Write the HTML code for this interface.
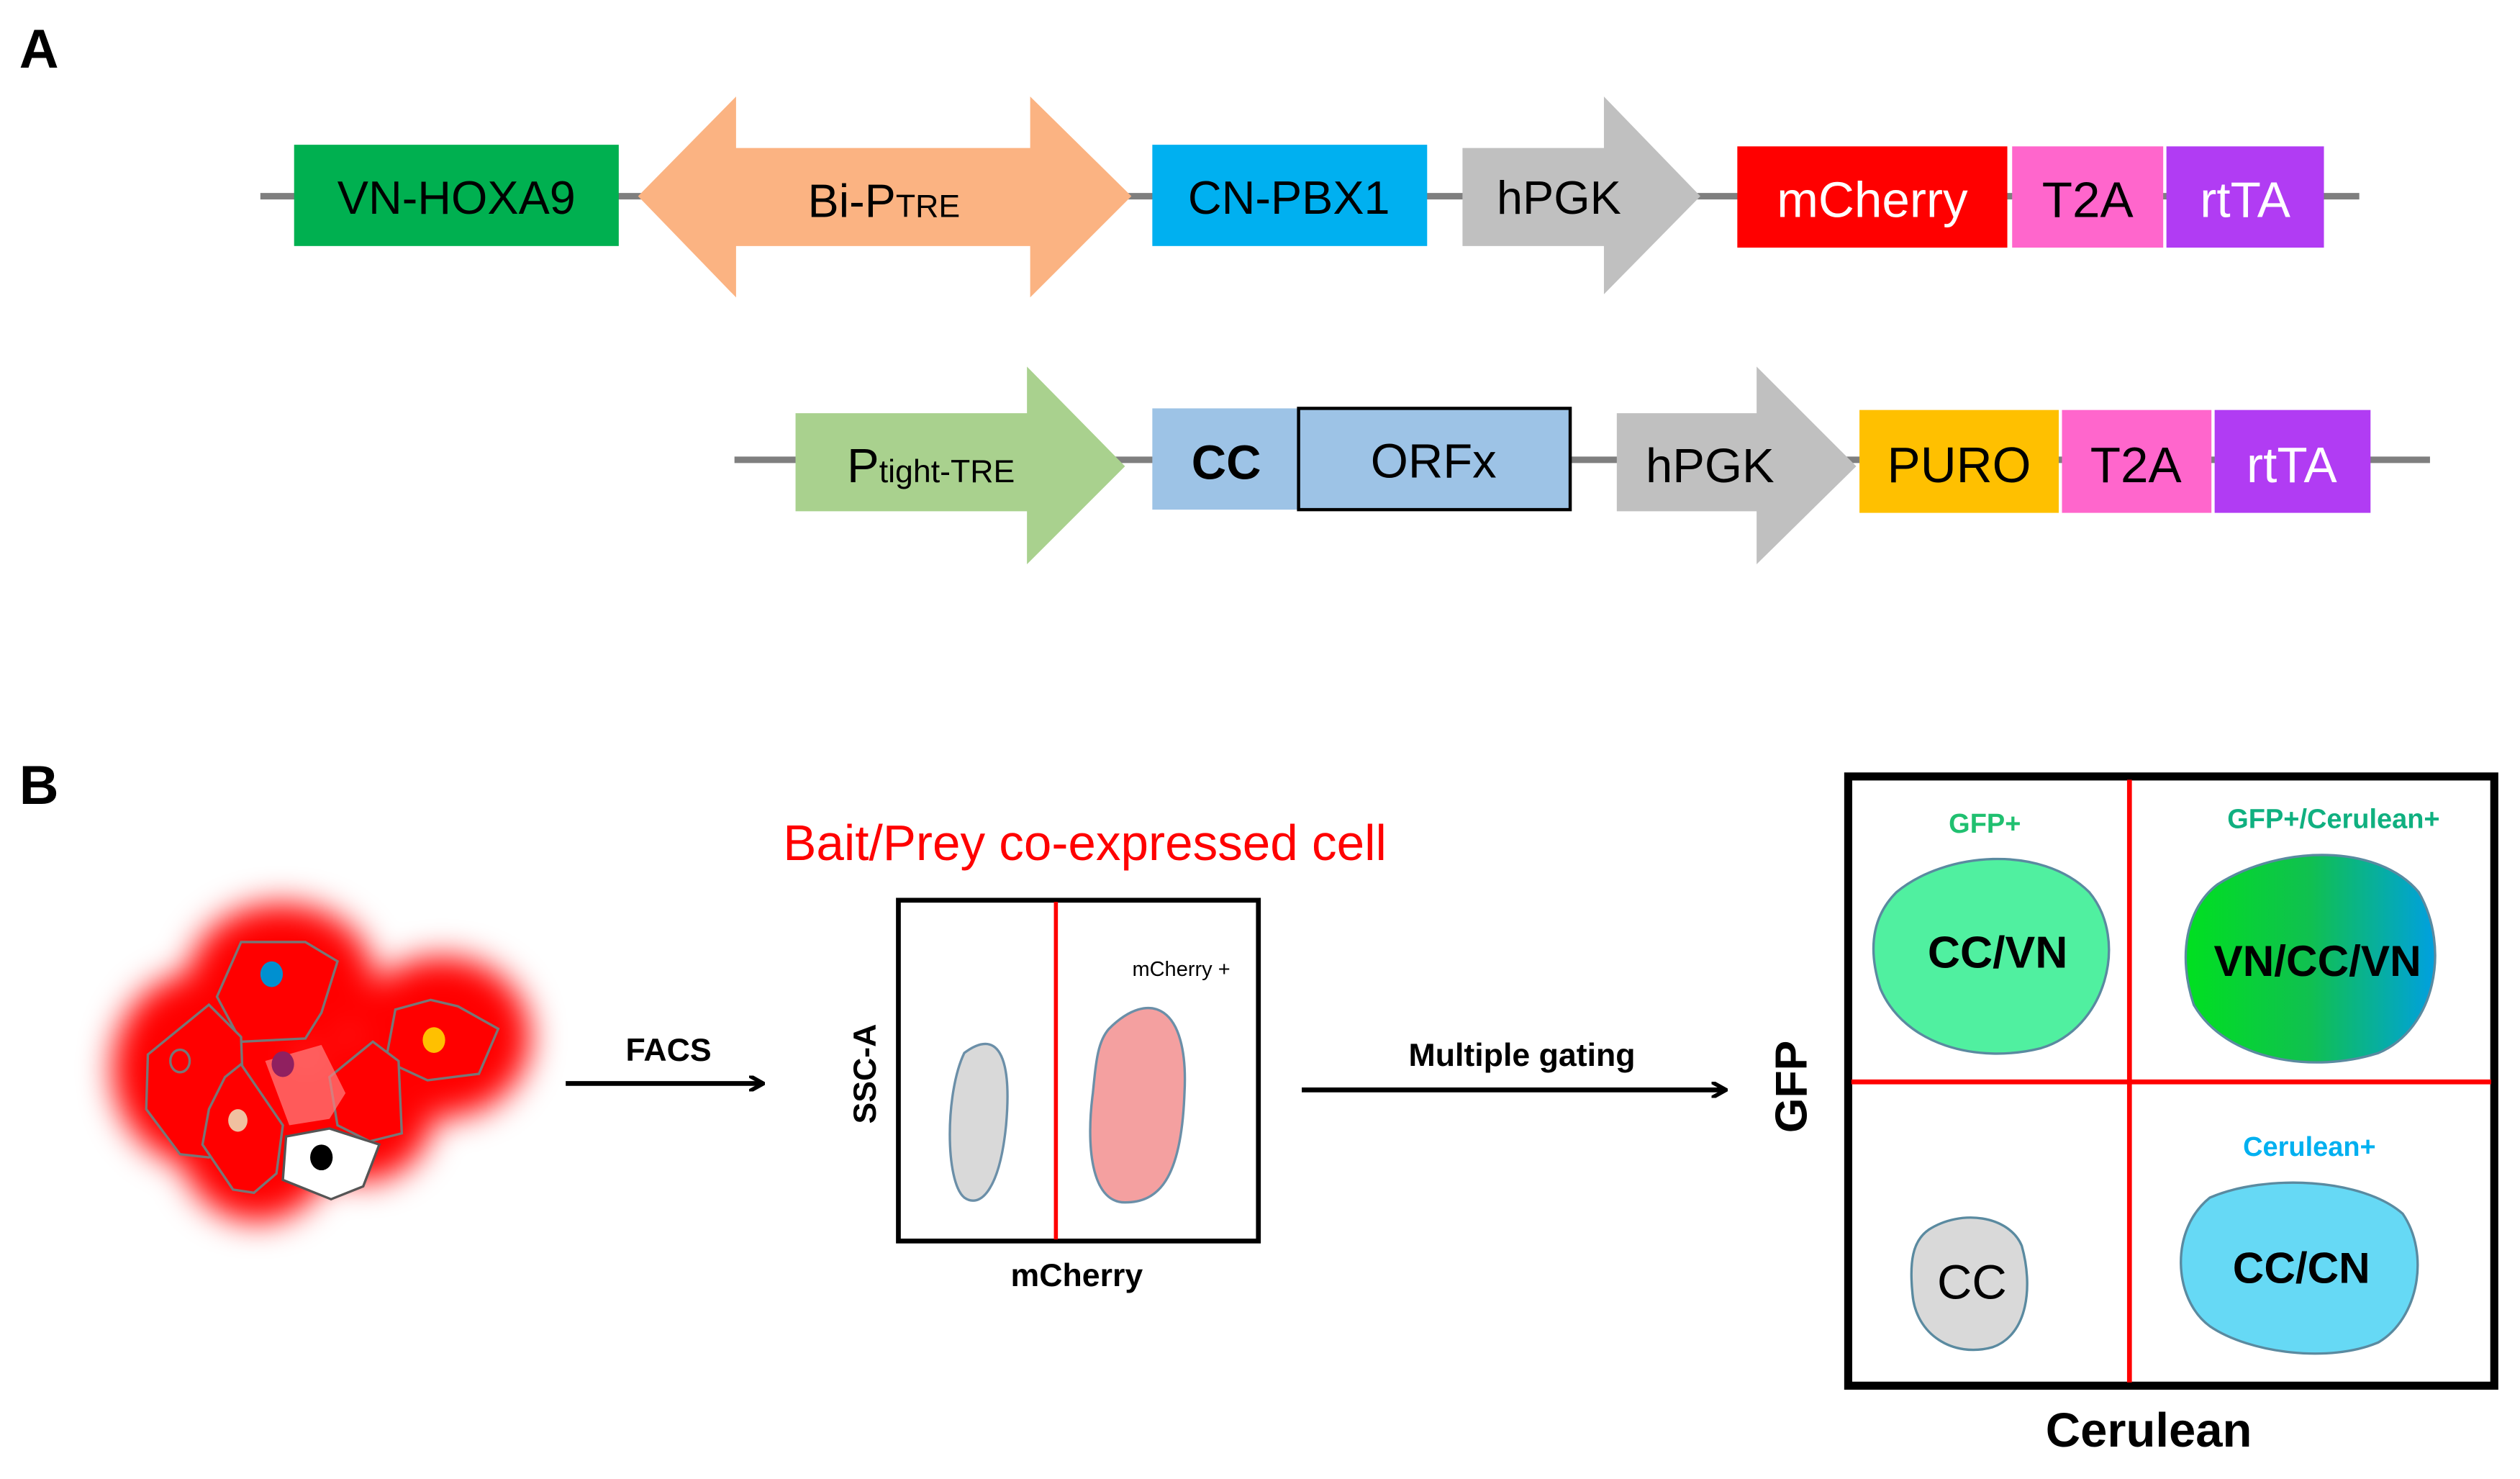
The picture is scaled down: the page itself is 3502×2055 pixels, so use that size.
<!DOCTYPE html>
<html><head><meta charset="utf-8"><style>html,body{margin:0;padding:0;background:#fff}svg{display:block}</style></head><body>
<svg width="3502" height="2055" viewBox="0 0 1568 920" xmlns="http://www.w3.org/2000/svg" font-family="Liberation Sans, sans-serif">
<defs>
<filter id="blur" x="-30%" y="-30%" width="160%" height="160%"><feGaussianBlur stdDeviation="10"/></filter>
<linearGradient id="gb" x1="0" x2="1"><stop offset="0" stop-color="#00e020"/><stop offset="0.5" stop-color="#10c050"/><stop offset="1" stop-color="#00a0e0"/></linearGradient>
<marker id="ah" markerWidth="10" markerHeight="10" refX="8" refY="5" orient="auto" markerUnits="userSpaceOnUse"><path d="M0,0 L9,5 L0,10" fill="none" stroke="#000" stroke-width="2.5"/></marker>
</defs>
<text x="12" y="42" font-size="34" font-weight="bold">A</text>
<text x="12" y="500" font-size="34" font-weight="bold">B</text>
<!-- Row 1 -->
<line x1="162" y1="122" x2="1468" y2="122" stroke="#7f7f7f" stroke-width="4"/>
<rect x="183" y="90" width="202" height="63" fill="#00b050"/>
<text x="284" y="133" font-size="29" text-anchor="middle">VN-HOXA9</text>
<polygon points="397,122 458,60 458,92 641,92 641,60 704,122 641,185 641,153 458,153 458,185" fill="#fbb382"/>
<text x="550" y="135" font-size="29" text-anchor="middle">Bi-P<tspan font-size="20">TRE</tspan></text>
<rect x="717" y="90" width="171" height="63" fill="#00b0f0"/>
<text x="802" y="133" font-size="29" text-anchor="middle">CN-PBX1</text>
<polygon points="910,92 998,92 998,60 1058,122 998,183 998,153 910,153" fill="#c0c0c0"/>
<text x="970" y="133" font-size="29" text-anchor="middle">hPGK</text>
<rect x="1081" y="91" width="168" height="63" fill="#ff0000"/>
<text x="1165" y="135" font-size="31" text-anchor="middle" fill="#fff">mCherry</text>
<rect x="1252" y="91" width="94" height="63" fill="#ff66cc"/>
<text x="1299" y="135" font-size="31" text-anchor="middle">T2A</text>
<rect x="1348" y="91" width="98" height="63" fill="#b13cf3"/>
<text x="1397" y="135" font-size="31" text-anchor="middle" fill="#fff">rtTA</text>
<!-- Row 2 -->
<line x1="457" y1="286" x2="1512" y2="286" stroke="#7f7f7f" stroke-width="4"/>
<polygon points="495,257 639,257 639,228 700,290 639,351 639,318 495,318" fill="#a9d18e"/>
<text x="527" y="300" font-size="30">P<tspan font-size="20">tight-TRE</tspan></text>
<rect x="717" y="254" width="91" height="63" fill="#9dc3e6"/>
<text x="763" y="298" font-size="30" text-anchor="middle" font-weight="bold">CC</text>
<rect x="808" y="254" width="169" height="63" fill="#9dc3e6" stroke="#000" stroke-width="2"/>
<text x="892" y="297" font-size="30" text-anchor="middle">ORFx</text>
<polygon points="1006,257 1093,257 1093,228 1155,290 1093,351 1093,318 1006,318" fill="#c0c0c0"/>
<text x="1064" y="300" font-size="30" text-anchor="middle">hPGK</text>
<rect x="1157" y="255" width="124" height="64" fill="#ffc000"/>
<text x="1219" y="300" font-size="31" text-anchor="middle">PURO</text>
<rect x="1283" y="255" width="93" height="64" fill="#ff66cc"/>
<text x="1329" y="300" font-size="31" text-anchor="middle">T2A</text>
<rect x="1378" y="255" width="97" height="64" fill="#b13cf3"/>
<text x="1426" y="300" font-size="31" text-anchor="middle" fill="#fff">rtTA</text>
<!-- Cells -->
<g filter="url(#blur)" fill="#ff0000">
<ellipse cx="175" cy="610" rx="58" ry="48"/>
<ellipse cx="125" cy="665" rx="55" ry="60"/>
<ellipse cx="275" cy="645" rx="55" ry="50"/>
<ellipse cx="160" cy="705" rx="50" ry="55"/>
<ellipse cx="225" cy="690" rx="45" ry="45"/>
</g>
<g fill="#ff0000" stroke="#777" stroke-width="1.5">
<polygon points="150,586 190,586 210,598 200,630 190,646 150,648 135,620"/>
<polygon points="92,656 130,625 150,645 152,700 130,720 112,718 91,690"/>
<polygon points="246,628 268,622 285,626 310,640 298,668 266,672 240,660"/>
<polygon points="205,670 232,648 248,660 250,705 230,710 210,700"/>
<polygon points="140,670 150,662 176,700 172,730 158,742 145,740 126,712 130,690"/>
</g>
<path d="M178,707 L205,702 L236,712 L226,738 L206,746 L176,734 Z" fill="#fff" stroke="#555" stroke-width="1.5"/>
<path d="M165,660 L200,650 L215,680 L205,696 L180,700 Z" fill="#ff8080" opacity="0.7"/>
<ellipse cx="169" cy="606" rx="7" ry="8" fill="#0090d0"/>
<ellipse cx="270" cy="647" rx="7" ry="8" fill="#ffc000"/>
<ellipse cx="176" cy="662" rx="7" ry="8" fill="#902060"/>
<ellipse cx="148" cy="697" rx="6" ry="7" fill="#f0c0a0"/>
<ellipse cx="200" cy="720" rx="7" ry="8" fill="#000"/>
<ellipse cx="112" cy="660" rx="6" ry="7" fill="none" stroke="#777" stroke-width="1.5"/>
<!-- FACS arrow -->
<line x1="352" y1="674" x2="474" y2="674" stroke="#000" stroke-width="3" marker-end="url(#ah)"/>
<text x="416" y="660" font-size="20" font-weight="bold" text-anchor="middle">FACS</text>
<text x="675" y="535" font-size="31" fill="#ff0000" text-anchor="middle">Bait/Prey co-expressed cell</text>
<rect x="559" y="560" width="224" height="212" fill="none" stroke="#000" stroke-width="3"/>
<line x1="657" y1="561" x2="657" y2="771" stroke="#ff0000" stroke-width="2.5"/>
<path d="M600,655 C620,640 630,655 626,700 C622,740 610,752 600,745 C588,735 588,680 600,655 Z" fill="#d9d9d9" stroke="#6b8fa8" stroke-width="1.5"/>
<path d="M690,640 C715,615 740,625 737,680 C735,735 720,748 700,748 C678,748 676,710 680,680 C682,660 683,648 690,640 Z" fill="#f4a0a0" stroke="#6b8fa8" stroke-width="1.5"/>
<text x="735" y="607" font-size="13" text-anchor="middle">mCherry +</text>
<text x="545" y="668" font-size="20" font-weight="bold" text-anchor="middle" transform="rotate(-90 545 668)">SSC-A</text>
<text x="670" y="800" font-size="20" font-weight="bold" text-anchor="middle">mCherry</text>
<line x1="810" y1="678" x2="1073" y2="678" stroke="#000" stroke-width="3" marker-end="url(#ah)"/>
<text x="947" y="663" font-size="20" font-weight="bold" text-anchor="middle">Multiple gating</text>
<text x="1124" y="676" font-size="28" font-weight="bold" text-anchor="middle" transform="rotate(-90 1124 676)">GFP</text>
<!-- Quadrant plot -->
<rect x="1150" y="483" width="402" height="379" fill="none" stroke="#000" stroke-width="5"/>
<line x1="1325" y1="485" x2="1325" y2="860" stroke="#ff0000" stroke-width="3"/>
<line x1="1152" y1="673" x2="1550" y2="673" stroke="#ff0000" stroke-width="3"/>
<path d="M1180,555 C1210,530 1270,525 1300,555 C1325,585 1310,640 1270,652 C1230,662 1185,650 1170,615 C1162,590 1165,570 1180,555 Z" fill="#50f0a0" stroke="#5a8aa0" stroke-width="1.5"/>
<text x="1243" y="602" font-size="28" font-weight="bold" text-anchor="middle">CC/VN</text>
<path d="M1380,550 C1420,525 1480,525 1505,555 C1525,590 1515,640 1480,655 C1440,668 1385,660 1365,625 C1355,595 1360,565 1380,550 Z" fill="url(#gb)" stroke="#5a8aa0" stroke-width="1.5"/>
<text x="1442" y="607" font-size="27" font-weight="bold" text-anchor="middle">VN/CC/VN</text>
<path d="M1200,765 C1220,752 1250,756 1258,775 C1265,800 1262,830 1240,838 C1215,845 1192,830 1190,805 C1188,785 1190,772 1200,765 Z" fill="#d9d9d9" stroke="#5a8aa0" stroke-width="1.5"/>
<text x="1227" y="808" font-size="30" text-anchor="middle">CC</text>
<path d="M1375,745 C1410,730 1470,733 1495,755 C1512,780 1505,820 1480,835 C1450,848 1400,842 1375,825 C1352,808 1350,765 1375,745 Z" fill="#66d9f5" stroke="#5a8aa0" stroke-width="1.5"/>
<text x="1432" y="798" font-size="27" font-weight="bold" text-anchor="middle">CC/CN</text>
<text x="1235" y="518" font-size="17" font-weight="bold" fill="#20c070" text-anchor="middle">GFP+</text>
<text x="1452" y="515" font-size="17" font-weight="bold" fill="#10b080" text-anchor="middle">GFP+/Cerulean+</text>
<text x="1437" y="719" font-size="17" font-weight="bold" fill="#00b0f0" text-anchor="middle">Cerulean+</text>
<text x="1337" y="900" font-size="30" font-weight="bold" text-anchor="middle">Cerulean</text>
</svg>
</body></html>
